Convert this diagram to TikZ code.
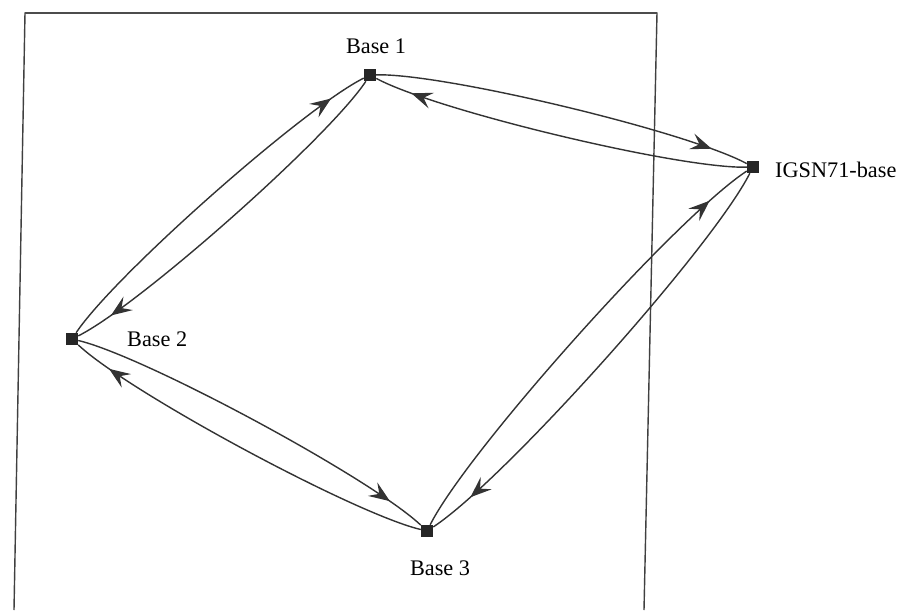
\documentclass[tikz,border=0pt]{standalone}
\usepackage{fontspec}
\setmainfont{Liberation Serif}
\usetikzlibrary{arrows.meta, decorations.markings}

\begin{document}
\begin{tikzpicture}[x=0.03cm, y=-0.03cm,
                    station/.style={rectangle, fill=black!85, inner sep=0pt, minimum size=12*0.03cm},
                    tag/.style={font=\fontsize{19}{22}\selectfont, inner sep=0pt},
                    leg/.style={line width=1.2pt, black!80, bend left=15, looseness=0.45,
                                postaction={decorate},
                                decoration={markings, mark=at position 0.9 with {\arrow{Stealth[length=18pt, width=14pt, inset=7pt]}}}}]

    \useasboundingbox (0,0) rectangle (919,610);

    % frame
    \draw[line width=1.2pt, black!75] (14,610) -- (25,13) -- (657,13) -- (644,610);
    \draw[line width=2pt, black!70] (25,13) -- (657,13);

    \node[station] (b1)   at (370,75)  {};
    \node[station] (igsn) at (753,167) {};
    \node[station] (b2)   at (72,339)  {};
    \node[station] (b3)   at (427,531) {};

    \node[tag] (t1)   at (376,46)           {Base 1};
    \node[tag, anchor=west] (tigsn) at (775,170) {IGSN71-base};
    \node[tag, anchor=west] (t2)   at (127,339) {Base 2};
    \node[tag] (t3)   at (440,568)          {Base 3};

    \draw[leg] (b1) to (igsn);
    \draw[leg] (igsn) to (b1);
    \draw[leg] (b2) to (b1);
    \draw[leg] (b1) to (b2);
    \draw[leg] (b2) to (b3);
    \draw[leg] (b3) to (b2);
    \draw[leg] (b3) to (igsn);
    \draw[leg] (igsn) to (b3);
\end{tikzpicture}
\end{document}
